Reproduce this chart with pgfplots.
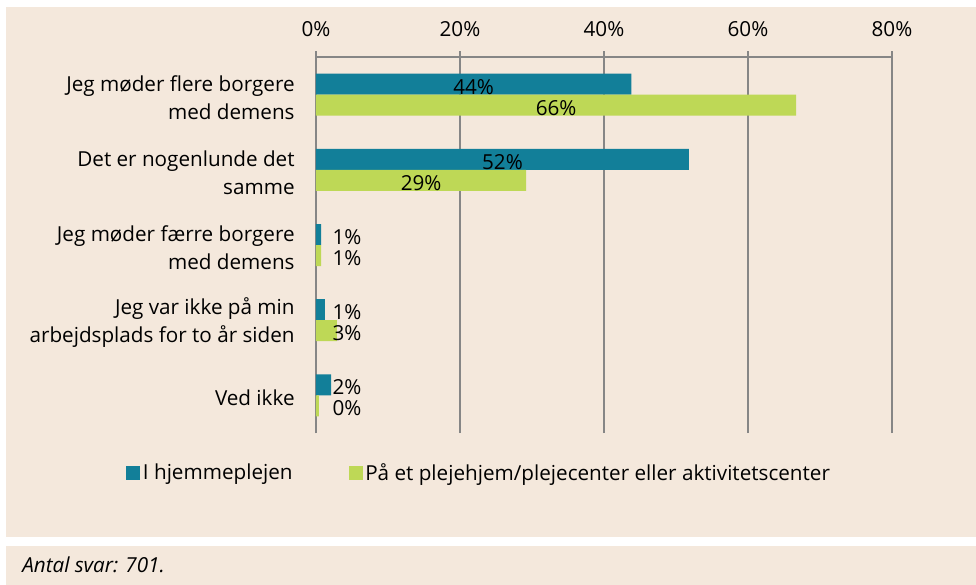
\documentclass[border=0pt]{standalone}
\usepackage{fontspec}
\setmainfont{Open Sans}
\usepackage{pgfplots}
\usepackage{pgfplotstable}
\pgfplotsset{compat=1.18}
\definecolor{bg}{RGB}{244,232,220}
\definecolor{barteal}{RGB}{18,127,153}
\definecolor{bargreen}{RGB}{190,216,86}
\definecolor{gridgray}{RGB}{134,134,134}
\newcommand{\cf}{\fontsize{15.5}{21}\selectfont}

% y: 4 = top category
\pgfplotstableread{
y x lab lc
4 43.8 44 21.9
3 51.8 52 25.9
2 0.7 1 4.3
1 1.25 1 4.3
0 2.1 2 4.3
}\hjem
\pgfplotstableread{
y x lab lc
4 66.7 66 33.35
3 29.2 29 14.6
2 0.7 1 4.3
1 2.9 3 4.3
0 0.4 0 4.3
}\pleje

\begin{document}
\begin{tikzpicture}
\path[use as bounding box] (0,0) rectangle (732pt,-438.75pt);
\fill[white] (0,0) rectangle (732pt,-438.75pt);
\fill[bg] (4.5pt,-5.25pt) rectangle (732pt,-402.75pt);
\fill[bg] (4.5pt,-409.5pt) rectangle (732pt,-438.75pt);
\node[anchor=west,font=\cf\itshape,inner sep=0pt] at (16.5pt,-423.75pt) {Antal svar: 701.};
\begin{axis}[
  scale only axis, width=432pt, height=282pt,
  at={(237pt,-324.75pt)}, anchor=south west,
  xbar, bar width=15.75pt,
  xmin=0, xmax=80, ymin=-0.5, ymax=4.5,
  axis x line*=top, axis y line*=left,
  axis line style={draw=gridgray, line width=1.1pt},
  xtick={0,20,40,60,80},
  xticklabel={\pgfmathprintnumber{\tick}\%},
  /pgf/number format/assume math mode=true,
  xmajorgrids, grid style={draw=gridgray, line width=1.1pt},
  tick align=outside,
  x tick style={draw=gridgray, line width=1.1pt},
  major tick length=4.5pt,
  xticklabel style={font=\cf, text=black, yshift=7.5pt},
  ytick={0,1,2,3,4},
  yticklabels={Ved ikke,
    {Jeg var ikke på min\\arbejdsplads for to år siden},
    {Jeg møder færre borgere\\med demens},
    {Det er nogenlunde det\\samme},
    {Jeg møder flere borgere\\med demens}},
  y tick style={draw=none},
  yticklabel style={font=\cf, text=black, align=right, xshift=-8pt, yshift=-2pt},
  extra y ticks={-0.5,0.5,1.5,2.5,3.5,4.5},
  extra y tick labels={},
  extra y tick style={tick style={draw=gridgray, line width=1.1pt}, major tick length=6pt, grid=none},
  point meta=explicit,
  nodes near coords={\pgfmathprintnumber{\pgfplotspointmeta}\%},
  visualization depends on={(\thisrow{lc}-\thisrow{x})*5.4 \as \dx},
  every node near coord/.append style={font=\cf, text=black, anchor=center, xshift=\dx pt, yshift=-2pt},
  legend style={at={(0.2838,-0.1064)}, anchor=center, draw=none, fill=none,
    font=\cf, legend columns=2,
    /tikz/every even column/.append style={column sep=40pt}},
  legend image code/.code={\fill[#1,draw=none] (0pt,-5.25pt) rectangle (10.5pt,5.25pt);},
  clip=false,
]
\addplot[fill=barteal, draw=none, bar shift=7.875pt] table[x=x,y=y,meta=lab] {\hjem};
\addplot[fill=bargreen, draw=none, bar shift=-7.875pt] table[x=x,y=y,meta=lab] {\pleje};
\legend{I hjemmeplejen, På et plejehjem/plejecenter eller aktivitetscenter}
\end{axis}
\end{tikzpicture}
\end{document}
